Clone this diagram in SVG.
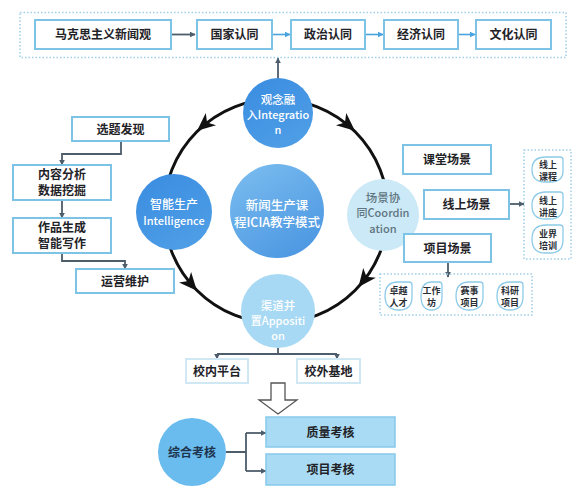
<svg xmlns="http://www.w3.org/2000/svg" width="583" height="498" viewBox="0 0 583 498">
<defs>
<linearGradient id="gDark" x1="0" y1="0" x2="0.6" y2="1"><stop offset="0" stop-color="#3a8ce0"/><stop offset="1" stop-color="#4d9de6"/></linearGradient>
<linearGradient id="gMid" x1="0.2" y1="0" x2="0.8" y2="1"><stop offset="0" stop-color="#79bbef"/><stop offset="1" stop-color="#4a96e1"/></linearGradient>
<marker id="ah" viewBox="0 0 10 10" refX="9" refY="5" markerWidth="6" markerHeight="6" orient="auto" markerUnits="userSpaceOnUse"><path d="M0 0 L10 5 L0 10 Z" fill="#4d5d6c"/></marker>
<marker id="ahb" viewBox="0 0 10 10" refX="9" refY="5" markerWidth="6" markerHeight="6" orient="auto" markerUnits="userSpaceOnUse"><path d="M0 0 L10 5 L0 10 Z" fill="#4aa3de"/></marker>
<path id="ringHead" d="M9 0 L-9 -8 L-4 0 L-9 8 Z" fill="#111"/>
</defs>
<style>
.t{font-family:"Noto Sans CJK SC","Noto Sans",sans-serif;font-weight:700;text-anchor:middle;}
.c{font-weight:500;}
.box{fill:#fff;stroke:#7cc3e6;stroke-width:2;}
.boxl{fill:#fff;stroke:#cfe8f4;stroke-width:2;}
.boxf{fill:#a9dcf4;stroke:#86c9ea;stroke-width:1.5;}
.dot{fill:none;stroke:#9fd0ea;stroke-width:1.5;stroke-dasharray:1.5 2;}
.pill{fill:#fff;stroke:#8dcbe8;stroke-width:1.3;}
.ln{fill:none;stroke:#4d5d6c;stroke-width:1.8;}
.lnb{fill:none;stroke:#4aa3de;stroke-width:1.6;}
.dk{fill:#1f2328;font-size:12px;}
.wt{fill:#fff;font-size:12px;}
.pt{fill:#2a2f35;font-size:9px;font-weight:600;}
</style>
<rect width="583" height="498" fill="#fff"/>

<!-- connectors -->
<g id="connectors">
<circle cx="276" cy="211" r="112" fill="none" stroke="#111" stroke-width="3"/>
<use href="#ringHead" transform="translate(204,125) rotate(140)"/>
<use href="#ringHead" transform="translate(348,125) rotate(40)"/>
<use href="#ringHead" transform="translate(364,280) rotate(128)"/>
<use href="#ringHead" transform="translate(191,284) rotate(49)"/>
<path class="ln" d="M278 79 L278 58" marker-end="url(#ah)"/>
<path class="ln" d="M171 34.5 L195 34.5" marker-end="url(#ah)"/>
<path class="lnb" d="M272 34.5 L290 34.5" marker-end="url(#ahb)"/>
<path class="lnb" d="M365 34.5 L383 34.5" marker-end="url(#ahb)"/>
<path class="lnb" d="M458 34.5 L475 34.5" marker-end="url(#ahb)"/>
<path class="ln" d="M121 141 L121 154 L62 154 L62 165" marker-end="url(#ah)"/>
<path class="ln" d="M62 200 L62 218" marker-end="url(#ah)"/>
<path class="ln" d="M62 253 L62 261 L125 261 L125 269" marker-end="url(#ah)"/>
<path class="ln" d="M510 204 L524 204" marker-end="url(#ah)"/>
<path class="ln" d="M448 262 L448 277" marker-end="url(#ah)"/>
<path class="ln" d="M278 348 L278 354 M217 354 L337 354"/>
<path class="ln" d="M217 354 L217 359" marker-end="url(#ah)"/>
<path class="ln" d="M337 354 L337 359" marker-end="url(#ah)"/>
<path d="M271 383 L285 383 L285 400 L297 400 L278 414 L259 400 L271 400 Z" fill="#fff" stroke="#555" stroke-width="1.3"/>
<path class="ln" d="M226 452 L246 452 M246 433 L246 471"/>
<path class="ln" d="M246 433 L266 433" marker-end="url(#ah)"/>
<path class="ln" d="M246 471 L266 471" marker-end="url(#ah)"/>
</g>

<!-- top row -->
<rect class="dot" x="20" y="12.5" width="546" height="45"/>
<g id="n-marx"><rect class="box" x="35" y="20" width="136" height="29"/><text class="t dk" x="103" y="39">马克思主义新闻观</text></g>
<g id="n-guojia"><rect class="box" x="197" y="20" width="75" height="29"/><text class="t dk" x="234.5" y="39">国家认同</text></g>
<g id="n-zhengzhi"><rect class="box" x="291" y="20" width="74" height="29"/><text class="t dk" x="328" y="39">政治认同</text></g>
<g id="n-jingji"><rect class="box" x="384" y="20" width="74" height="29"/><text class="t dk" x="421" y="39">经济认同</text></g>
<g id="n-wenhua"><rect class="box" x="476" y="20" width="75" height="29"/><text class="t dk" x="513.5" y="39">文化认同</text></g>

<!-- circles -->
<g id="n-integration"><circle cx="278" cy="113" r="35" fill="url(#gDark)"/>
<text class="t c wt" x="278" y="104" style="font-size:11.5px">观念融</text><text class="t c wt" x="278" y="119" style="font-size:11px">入Integratio</text><text class="t c wt" x="278" y="134" style="font-size:11px">n</text></g>
<g id="n-intelligence"><circle cx="174" cy="212" r="38" fill="url(#gDark)"/>
<text class="t c wt" x="174" y="209">智能生产</text><text class="t c wt" x="174" y="225" style="font-size:11px">Intelligence</text></g>
<g id="n-center"><circle cx="277" cy="211" r="47" fill="url(#gMid)"/>
<text class="t c wt" x="277" y="210" style="font-size:12.5px">新闻生产课</text><text class="t c wt" x="277" y="227" style="font-size:12.5px">程ICIA教学模式</text></g>
<g id="n-coordination"><circle cx="383" cy="215" r="36" fill="#cbe9f6"/>
<text class="t c" x="383" y="201.5" style="fill:#5f7480;font-size:11.5px">场景协</text><text class="t c" x="383" y="217" style="fill:#5f7480;font-size:11px">同Coordin</text><text class="t c" x="383" y="232.5" style="fill:#5f7480;font-size:11px">ation</text></g>
<g id="n-apposition"><circle cx="278" cy="311" r="37" fill="#a8d9f4"/>
<text class="t c wt" x="278" y="309.5" style="font-size:11.5px">渠道并</text><text class="t c wt" x="278" y="325" style="font-size:11px">置Appositi</text><text class="t c wt" x="278" y="340" style="font-size:11px">on</text></g>

<!-- left boxes -->
<g id="n-xuanti"><rect class="box" x="72" y="117" width="97" height="24"/><text class="t dk" x="120.5" y="133.5">选题发现</text></g>
<g id="n-neirong"><rect class="box" x="13" y="165" width="98" height="35"/><text class="t dk" x="62" y="179">内容分析</text><text class="t dk" x="62" y="195">数据挖掘</text></g>
<g id="n-zuopin"><rect class="box" x="13" y="218" width="98" height="35"/><text class="t dk" x="62" y="232">作品生成</text><text class="t dk" x="62" y="248">智能写作</text></g>
<g id="n-yunying"><rect class="box" x="76" y="269" width="98" height="24"/><text class="t dk" x="125" y="285.5">运营维护</text></g>

<!-- right boxes -->
<g id="n-ketang"><rect class="box" x="403" y="145" width="88" height="29"/><text class="t dk" x="447" y="164">课堂场景</text></g>
<g id="n-xianshang"><rect class="box" x="424" y="190" width="85" height="29"/><text class="t dk" x="466.5" y="209">线上场景</text></g>
<g id="n-xiangmu"><rect class="box" x="404" y="234" width="87" height="28"/><text class="t dk" x="447.5" y="252.5">项目场景</text></g>

<rect class="dot" x="524" y="150" width="47" height="109"/>
<g id="n-kecheng"><path class="pill" d="M546 157 L560 157 Q563 157 563 160 L563 171 Q563 182 550 182 L545 182 Q532 182 532 169.5 Q532 157 546 157 Z"/><text class="t pt" x="548" y="168">线上</text><text class="t pt" x="548" y="179.5">课程</text></g>
<g id="n-jiangzuo"><path class="pill" d="M546 192 L560 192 Q563 192 563 195 L563 206 Q563 219 550 219 L545 219 Q532 219 532 205.5 Q532 192 546 192 Z"/><text class="t pt" x="548" y="204">线上</text><text class="t pt" x="548" y="215.5">讲座</text></g>
<g id="n-peixun"><path class="pill" d="M546 225 L560 225 Q563 225 563 228 L563 240 Q563 253 550 253 L545 253 Q532 253 532 239 Q532 225 546 225 Z"/><text class="t pt" x="548" y="237">业界</text><text class="t pt" x="548" y="248.5">培训</text></g>

<rect class="dot" x="380" y="274" width="152" height="41"/>
<g id="n-zhuoyue"><path class="pill" d="M398 282 L409 282 Q412 282 412 285 L412 297 Q412 310 399 310 Q385 310 385 296 Q385 282 398 282 Z"/><text class="t pt" x="398.5" y="294">卓越</text><text class="t pt" x="398.5" y="306">人才</text></g>
<g id="n-gongzuofang"><path class="pill" d="M432 282 L439 282 Q442 282 442 285 L442 297 Q442 310 431.5 310 Q421 310 421 296 Q421 282 432 282 Z"/><text class="t pt" x="431.5" y="294">工作</text><text class="t pt" x="431.5" y="306">坊</text></g>
<g id="n-saishi"><path class="pill" d="M469 282 L480 282 Q483 282 483 285 L483 297 Q483 310 469.5 310 Q456 310 456 296 Q456 282 469 282 Z"/><text class="t pt" x="469.5" y="294">赛事</text><text class="t pt" x="469.5" y="306">项目</text></g>
<g id="n-keyan"><path class="pill" d="M510 282 L520 282 Q523 282 523 285 L523 297 Q523 310 510 310 Q497 310 497 296 Q497 282 510 282 Z"/><text class="t pt" x="510" y="294">科研</text><text class="t pt" x="510" y="306">项目</text></g>

<!-- bottom -->
<g id="n-xiaonei"><rect class="boxl" x="186" y="359" width="62" height="24"/><text class="t dk" x="217" y="375.5">校内平台</text></g>
<g id="n-xiaowai"><rect class="boxl" x="297" y="359" width="63" height="24"/><text class="t dk" x="328.5" y="375.5">校外基地</text></g>
<g id="n-zonghe"><circle cx="192" cy="452" r="34" fill="#6bbcee"/><text class="t" x="192" y="456.5" style="fill:#1e3550;font-size:12px">综合考核</text></g>
<g id="n-zhiliang"><rect class="boxf" x="266" y="417" width="129" height="30"/><text class="t dk" x="330.5" y="436.5">质量考核</text></g>
<g id="n-xiangmukh"><rect class="boxf" x="266" y="454" width="129" height="31"/><text class="t dk" x="330.5" y="474">项目考核</text></g>
</svg>
